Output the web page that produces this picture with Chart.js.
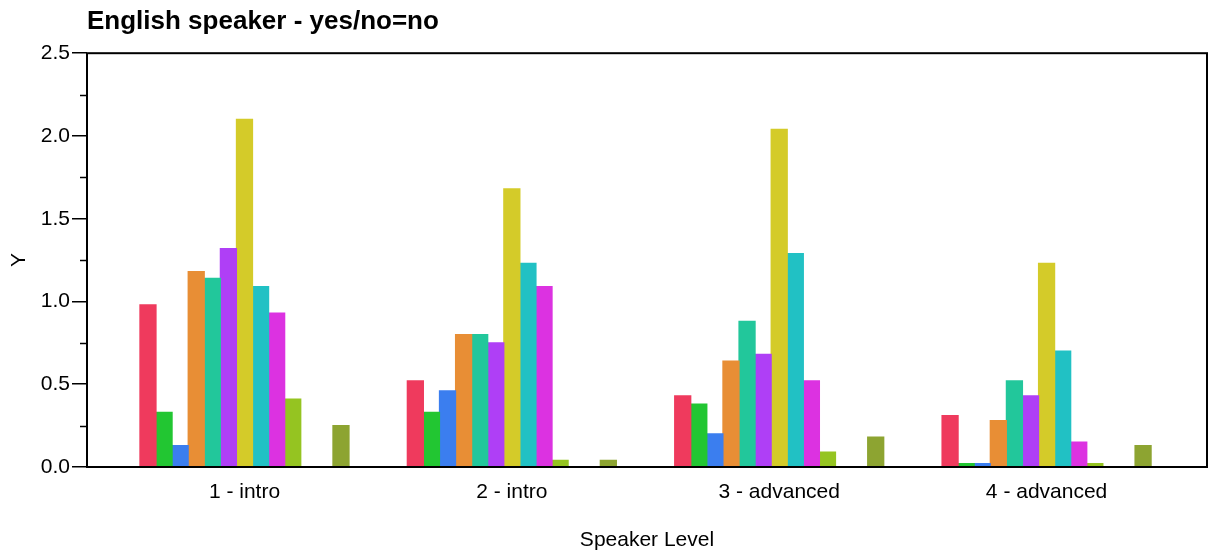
<!DOCTYPE html>
<html>
<head>
<meta charset="utf-8">
<script src="https://cdn.jsdelivr.net/npm/chart.js@4.4.1/dist/chart.umd.min.js"></script>
<style>
  html, body { margin: 0; padding: 0; background: #fff; }
  #wrap { width: 1209px; height: 554px; position: relative; }
</style>
</head>
<body>
<div id="wrap"><canvas id="chart"></canvas></div>
<script>
// categories on the x axis
const categories = ['1 - intro', '2 - intro', '3 - advanced', '4 - advanced'];

// one series per colour, values per category
const s01 = [0.98, 0.52, 0.43, 0.31];
const s02 = [0.33, 0.33, 0.38, 0.02];
const s03 = [0.13, 0.46, 0.20, 0.02];
const s04 = [1.18, 0.80, 0.64, 0.28];
const s05 = [1.14, 0.80, 0.88, 0.52];
const s06 = [1.32, 0.75, 0.68, 0.43];
const s07 = [2.10, 1.68, 2.04, 1.23];
const s08 = [1.09, 1.23, 1.29, 0.70];
const s09 = [0.93, 1.09, 0.52, 0.15];
const s10 = [0.41, 0.04, 0.09, 0.02];
const s11 = [null, null, null, null];
const s12 = [null, null, null, null];
const s13 = [0.25, 0.04, 0.18, 0.13];

const seriesValues = [s01, s02, s03, s04, s05, s06, s07, s08, s09, s10, s11, s12, s13];
const seriesColors = ['#EF3A5D', '#22C632', '#3B7EEF', '#E88E35', '#22C79B', '#AF3FF6',
                      '#D4CB29', '#21C1C4', '#DC32E1', '#95C421', '#5FC23A', '#3BA9C9', '#8DA431'];

const yTicks = [0, 0.5, 1.0, 1.5, 2.0, 2.5];
const yMinorTicks = [0.25, 0.75, 1.25, 1.75, 2.25];

const FONT = "'Liberation Sans', Arial, sans-serif";

// frame round the plot area plus the short minor ticks on the y axis
const framePlugin = {
    id: 'frame',
    afterDraw(chart) {
        const { ctx, chartArea: a, scales } = chart;
        ctx.save();
        ctx.strokeStyle = '#000';
        ctx.lineWidth = 1.5;
        yMinorTicks.forEach(v => {
            const y = Math.round(scales.y.getPixelForValue(v)) + 0.5;
            ctx.beginPath();
            ctx.moveTo(a.left - 7, y);
            ctx.lineTo(a.left, y);
            ctx.stroke();
        });
        ctx.lineWidth = 2;
        ctx.strokeRect(a.left, a.top, a.right - a.left, a.bottom - a.top);
        ctx.restore();
    }
};

const datasets = seriesValues.map((vals, i) => ({
    label: 'Series ' + (i + 1),
    data: vals.map((v, j) => ({ x: j, y: v })),
    backgroundColor: seriesColors[i],
    borderWidth: 0,
    inflateAmount: 0.6,
    categoryPercentage: 0.782,
    barPercentage: 1.0
}));

new Chart(document.getElementById('chart').getContext('2d'), {
    type: 'bar',
    data: { datasets },
    options: {
        responsive: true,
        maintainAspectRatio: false,
        animation: false,
        layout: { padding: { left: 0, right: 2, top: 0, bottom: 0 } },
        plugins: {
            legend: { display: false },
            tooltip: { enabled: false },
            title: {
                display: true,
                text: 'English speaker - yes/no=no',
                align: 'start',
                fullSize: false,
                color: '#000',
                font: { family: FONT, size: 26, weight: 'bold' },
                padding: { top: 6, bottom: 16 }
            }
        },
        scales: {
            x: {
                type: 'linear',
                min: -0.589,
                max: 3.6,
                offset: false,
                afterBuildTicks: (scale) => {
                    scale.ticks = categories.map((_, i) => ({ value: i }));
                },
                afterFit: (scale) => { scale.height = 87; },
                grid: { display: true, drawOnChartArea: false, drawTicks: false },
                border: { display: false },
                ticks: {
                    color: '#000',
                    font: { family: FONT, size: 21 },
                    padding: 13,
                    maxRotation: 0,
                    autoSkip: false,
                    callback: (v) => categories[v]
                },
                title: {
                    display: true,
                    text: 'Speaker Level',
                    color: '#000',
                    font: { family: FONT, size: 21 },
                    padding: { top: 0, bottom: 1 }
                }
            },
            y: {
                min: 0,
                max: 2.5,
                afterBuildTicks: (scale) => {
                    scale.ticks = yTicks.map(v => ({ value: v }));
                },
                afterFit: (scale) => { scale.width = 87; },
                grid: {
                    drawOnChartArea: false,
                    drawTicks: true,
                    tickLength: 15,
                    color: '#000',
                    lineWidth: 1.5
                },
                border: { display: false },
                ticks: {
                    color: '#000',
                    font: { family: FONT, size: 21 },
                    padding: 2,
                    callback: (v) => Number(v).toFixed(1)
                },
                title: {
                    display: true,
                    text: 'Y',
                    color: '#000',
                    font: { family: FONT, size: 21 },
                    padding: { top: 7, bottom: 0 }
                }
            }
        }
    },
    plugins: [framePlugin]
});
</script>
</body>
</html>
